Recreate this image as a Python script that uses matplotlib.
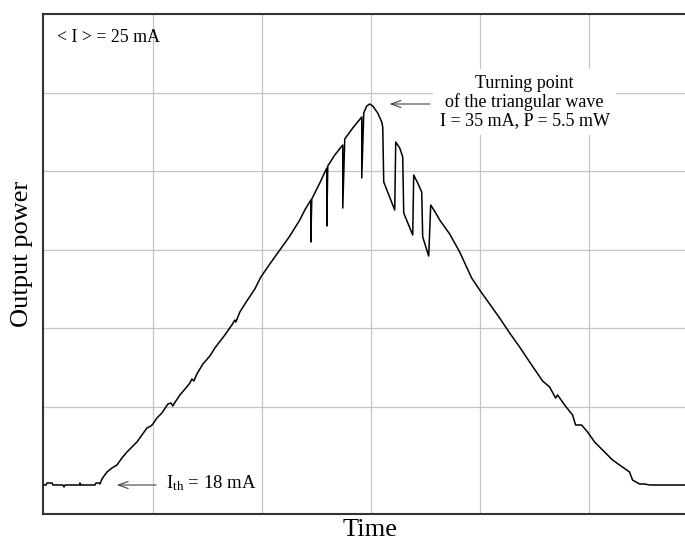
import matplotlib
matplotlib.use("Agg")
import matplotlib.pyplot as plt

plt.rcParams['font.family'] = ['Liberation Serif', 'DejaVu Serif']
plt.rcParams['mathtext.fontset'] = 'custom'
plt.rcParams['mathtext.rm'] = 'Liberation Serif'
plt.rcParams['mathtext.it'] = 'Liberation Serif'

# scope trace, time and power in arbitrary units
time = [0, 2, 3, 8, 9, 19, 20, 21, 36, 36, 37, 51, 52, 55, 56, 58, 63, 68, 73, 78,
        83, 88, 93, 98, 103, 107, 109, 113, 118, 124, 127, 129, 130, 136, 142, 146,
        148, 150, 153, 159, 166, 171, 181, 188, 191, 192, 196, 203, 211, 217, 226,
        236, 246, 256, 261, 267, 267, 268, 276, 283, 283, 284, 291, 299, 299, 301,
        309, 318, 318, 320, 323, 326, 329, 334, 338, 339, 340, 351, 352, 356, 359,
        360, 369, 370, 374, 378, 379, 385, 387, 392, 396, 406, 416, 428, 436, 446,
        456, 466, 476, 486, 499, 506, 512, 514, 521, 529, 532, 538, 544, 551, 561,
        569, 576, 586, 589, 596, 601, 606, 641]
power = [0, 0, 2, 2, 0, 0, -2, 0, 0, 2, 0, 0, 2, 2, 1, 6, 13, 17, 20, 27,
         33, 38, 43, 50, 57, 59, 61, 67, 72, 81, 82, 79, 81, 90, 97, 102,
         106, 104, 111, 121, 129, 137, 150, 160, 165, 163, 173, 184, 196, 208, 221,
         235, 249, 265, 275, 285, 243, 286, 302, 317, 259, 319, 330, 340, 277, 346,
         357, 368, 307, 372, 379, 381, 379, 372, 363, 358, 303, 275, 343, 337, 328,
         272, 250, 310, 302, 293, 248, 229, 280, 272, 265, 251, 233, 207, 195, 181,
         167, 152, 138, 123, 104, 98, 87, 90, 80, 70, 60, 60, 53, 43, 33,
         25, 20, 13, 5, 1, 1, 0, 0]

x_grid = [109, 218, 327, 436, 545]
y_grid = [78.4, 156.8, 235.2, 313.6, 392]

fig = plt.figure(figsize=(6.85, 5.42), dpi=100)
ax = fig.add_axes([43.5 / 685, 28 / 542, 1 - 43.5 / 685, 500 / 542])

ax.plot(time, power, color='black', lw=1.1, zorder=3)

ax.set_xlim(-0.5, 641.5)
ax.set_ylim(-29, 471)
ax.set_xticks(x_grid)
ax.set_yticks(y_grid)
ax.tick_params(length=0, labelbottom=False, labelleft=False)
ax.grid(True, color='#c4c4c4', lw=0.9, zorder=0)
ax.set_axisbelow(True)
for s in ['left', 'bottom', 'top']:
    ax.spines[s].set_color('#333333')
    ax.spines[s].set_linewidth(1.5)
ax.spines['right'].set_visible(False)

ax.text(13, 448, '< I > = 25 mA', fontsize=12.8, ha='left', va='center')

ax.text(481, 383, 'Turning point\nof the triangular wave\nI = 35 mA, P = 5.5 mW',
        fontsize=13, ha='center', va='center', linespacing=1.05, zorder=2,
        bbox=dict(boxstyle='square,pad=0.35', fc='white', ec='none'))
ax.annotate('', xy=(343, 381), xytext=(389, 381),
            arrowprops=dict(arrowstyle='->,head_length=0.7,head_width=0.25',
                            color='#444444', lw=0.8), zorder=4)

ax.text(122, 2, r'I$_{\mathrm{th}}$ = 18 mA', fontsize=13.5, ha='left', va='center',
        zorder=2, bbox=dict(boxstyle='square,pad=0.15', fc='white', ec='none'))
ax.annotate('', xy=(70, 0), xytext=(115, 0),
            arrowprops=dict(arrowstyle='->,head_length=0.7,head_width=0.25',
                            color='#444444', lw=0.8), zorder=4)

fig.text(370 / 685, 1 - 530 / 542, 'Time', fontsize=19, ha='center', va='center')
fig.text(22 / 685, 1 - 254 / 542, 'Output power', fontsize=19, ha='center',
         va='center', rotation=90)

fig.savefig('out.png', dpi=100)
